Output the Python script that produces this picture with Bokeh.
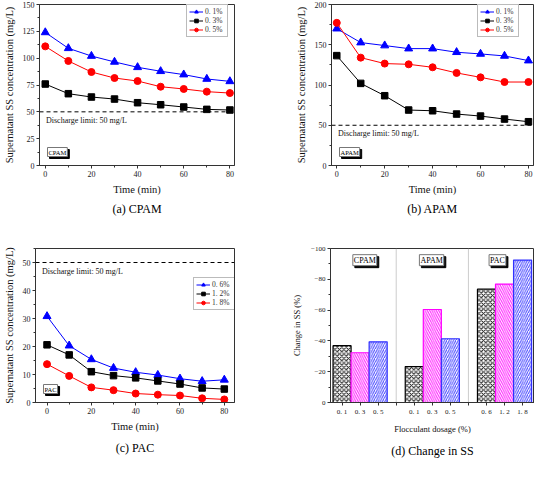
from bokeh.plotting import figure
from bokeh.models import Range1d, Span, Label, FixedTicker, SingleIntervalTicker, ColumnDataSource, Title
from bokeh.layouts import column, row
from bokeh.embed import file_html
from bokeh.resources import INLINE

# ---------------- data ----------------
time_min = [0, 10, 20, 30, 40, 50, 60, 70, 80]

cpam_labels = ["0. 1%", "0. 3%", "0. 5%"]
cpam_01 = [124.0, 109.2, 102.0, 96.5, 91.5, 87.8, 84.7, 80.6, 78.4]
cpam_03 = [75.9, 66.9, 63.8, 61.9, 58.5, 56.6, 54.5, 52.3, 51.7]
cpam_05 = [111.0, 97.4, 87.1, 81.5, 78.7, 73.4, 71.3, 68.8, 67.5]

apam_labels = ["0. 1%", "0. 3%", "0. 5%"]
apam_01 = [170.0, 152.7, 149.0, 145.2, 145.2, 140.7, 138.6, 136.1, 130.3]
apam_03 = [136.5, 102.0, 86.7, 68.9, 68.0, 63.9, 61.4, 57.7, 54.4]
apam_05 = [177.2, 134.0, 126.6, 125.7, 122.0, 115.0, 109.5, 103.7, 103.7]

pac_labels = ["0. 6%", "1. 2%", "1. 8%"]
pac_06 = [30.8, 20.3, 15.4, 12.3, 10.8, 9.8, 8.5, 7.6, 8.1]
pac_12 = [20.6, 17.0, 11.0, 9.6, 8.8, 7.7, 6.6, 5.2, 4.8]
pac_18 = [13.7, 9.5, 5.4, 4.4, 3.2, 2.8, 2.5, 1.5, 1.1]

discharge_limit = 50
limit_text = "Discharge limit: 50 mg/L"

groups = ["CPAM", "APAM", "PAC"]
dosage_labels = [["0. 1", "0. 3", "0. 5"], ["0. 1", "0. 3", "0. 5"], ["0. 6", "1. 2", "1. 8"]]
change_ss = [[-36.9, -32.3, -39.4], [-23.3, -60.4, -41.4], [-73.6, -76.9, -92.5]]

captions = ["(a) CPAM", "(b) APAM", "(c) PAC", "(d) Change in SS"]

# ---------------- style ----------------
SERIF = "Liberation Serif"
SERIES_COLORS = ["#0000FF", "#000000", "#FF0000"]
MARKERS = ["triangle", "square", "circle"]
MSIZES = [8, 6.5, 7]
BAR_COLORS = ["#000000", "#FF00FF", "#3030FF"]
HATCHES = ["diagonal_cross", "left_diagonal_line", "right_diagonal_line"]


def style_axes(p, tick_size, label_size, ylab_standoff=5, xlab_standoff=4):
    p.title.visible = False
    p.xgrid.visible = False
    p.ygrid.visible = False
    p.outline_line_color = "#333333"
    p.outline_line_alpha = 1
    p.outline_line_width = 1
    for ax in (p.xaxis[0], p.yaxis[0]):
        ax.axis_line_color = "#333333"
        ax.major_tick_line_color = "#333333"
        ax.minor_tick_line_color = "#333333"
        ax.major_tick_out = 3
        ax.major_tick_in = 0
        ax.minor_tick_out = 2
        ax.minor_tick_in = 0
        ax.major_label_text_font = SERIF
        ax.major_label_text_font_size = tick_size
        ax.major_label_text_color = "#222222"
        ax.major_label_standoff = 2
        ax.axis_label_text_font = SERIF
        ax.axis_label_text_font_size = label_size
        ax.axis_label_text_font_style = "normal"
        ax.axis_label_text_color = "#111111"
    p.yaxis[0].axis_label_standoff = ylab_standoff
    p.xaxis[0].axis_label_standoff = xlab_standoff


def tag(p, text, x, y, size, x_units="screen", y_units="screen", align="left", baseline="bottom"):
    common = dict(x=x, y=y, x_units=x_units, y_units=y_units, text=text,
                  text_font=SERIF, text_font_size=size, text_align=align,
                  text_baseline=baseline, padding=1)
    p.add_layout(Label(**common, x_offset=2, y_offset=-2, text_color="black",
                       background_fill_color="black", border_line_color="black"))
    p.add_layout(Label(**common, text_color="black", background_fill_color="white",
                       border_line_color="#777777"))


def caption(p, text, standoff):
    p.add_layout(Title(text=text, align="center", text_font=SERIF, text_font_size="12px",
                       text_font_style="normal", text_color="black", standoff=standoff), "below")


def line_panel(w, h, borders, xr, yr, y_int, series, labels, legend_xy, tag_text, cap, cap_so):
    left, right, top, bottom = borders
    p = figure(width=w, height=h, output_backend="svg", toolbar_location=None,
               x_range=Range1d(*xr), y_range=Range1d(*yr),
               min_border_left=left, min_border_right=right,
               min_border_top=top, min_border_bottom=bottom)
    style_axes(p, "8px", "10.5px")
    p.xaxis.ticker = SingleIntervalTicker(interval=20, num_minor_ticks=2)
    p.yaxis.ticker = SingleIntervalTicker(interval=y_int, num_minor_ticks=2)
    p.xaxis.axis_label = "Time (min)"
    p.yaxis.axis_label = "Supernatant SS concentration (mg/L)"

    p.add_layout(Span(location=discharge_limit, dimension="width", line_color="black",
                      line_dash="4 3", line_width=1))
    p.add_layout(Label(x=6.5, y=discharge_limit, x_units="screen", y_units="data", y_offset=-4,
                       text=limit_text, text_font=SERIF, text_font_size="8px",
                       text_baseline="top", text_color="#111111"))

    for ys, lab, col, mk, ms in zip(series, labels, SERIES_COLORS, MARKERS, MSIZES):
        p.line(time_min, ys, line_color=col, line_width=1, legend_label=lab)
        p.scatter(time_min, ys, marker=mk, size=ms, fill_color=col, line_color=col,
                  legend_label=lab)

    lg = p.legend[0]
    lg.location = legend_xy
    lg.label_text_font = SERIF
    lg.label_text_font_size = "7.5px"
    lg.label_text_color = "#333333"
    lg.glyph_width = 14
    lg.glyph_height = 9
    lg.label_height = 9
    lg.label_standoff = 2
    lg.spacing = 0
    lg.padding = 2
    lg.margin = 0
    lg.border_line_color = "#777777"
    lg.border_line_width = 1
    lg.background_fill_alpha = 1

    tag(p, tag_text, 8, 9, "6.5px")
    caption(p, cap, cap_so)
    return p


# columns 267 / 267, rows 232 / 231 (fills the 534 x 463 area inside the page margin)
pa = line_panel(267, 232, (32, 33, 4, 67), (-2.5, 82), (0, 150), 25,
                [cpam_01, cpam_03, cpam_05], cpam_labels, (147, 128), "CPAM", captions[0], 5)
pb = line_panel(267, 232, (64, 1, 4, 67), (-2.2, 82.1), (0, 200), 50,
                [apam_01, apam_03, apam_05], apam_labels, (146, 128), "APAM", captions[1], 5)
pc = line_panel(267, 231, (32, 33, 16, 55), (-5.2, 84.6), (0, 55), 10,
                [pac_06, pac_12, pac_18], pac_labels, (158, 92), "PAC", captions[2], 8)

# ---------------- panel d ----------------
xs, tops, cols, hats, tick_over = [], [], [], [], {}
for g, grp in enumerate(groups):
    for k, lab in enumerate(dosage_labels[g]):
        xpos = 4 * g + k
        xs.append(xpos)
        tops.append(change_ss[g][k])
        cols.append(BAR_COLORS[k])
        hats.append(HATCHES[k])
        tick_over[xpos] = lab
seps = [4 * g - 1 for g in range(1, len(groups))]
for s in seps:
    tick_over[s] = ""

pdd = figure(width=267, height=231, output_backend="svg", toolbar_location=None,
             x_range=Range1d(-0.64, 10.66), y_range=Range1d(0, -100),
             min_border_left=63, min_border_right=0, min_border_top=14, min_border_bottom=53)
style_axes(pdd, "7px", "8.5px", ylab_standoff=6, xlab_standoff=5)
pdd.yaxis.axis_label = "Change in SS (%)"
pdd.xaxis.axis_label = "Flocculant dosage (%)"
pdd.yaxis.ticker = FixedTicker(ticks=[-100, -80, -60, -40, -20, 0],
                               minor_ticks=[-90, -70, -50, -30, -10])
pdd.xaxis.ticker = FixedTicker(ticks=sorted(tick_over.keys()))
pdd.xaxis.major_label_overrides = tick_over

for s in seps:
    pdd.add_layout(Span(location=s, dimension="height", line_color="#999999",
                        line_dash="1 1", line_width=1))

src = ColumnDataSource(dict(x=xs, top=tops, color=cols, hatch=hats))
pdd.vbar(x="x", top="top", bottom=0, width=1, source=src, fill_color="white",
         line_color="color", line_width=1.2, hatch_pattern="hatch", hatch_color="color",
         hatch_scale=4.5, hatch_weight=1, hatch_alpha=0.9)

group_label_x = [1.26, 4.96, 8.61]
for gx, grp in zip(group_label_x, groups):
    tag(pdd, grp, gx, -96, "8px", x_units="data", y_units="data", align="center", baseline="top")

caption(pdd, captions[3], 11)

layout = column(row(pa, pb), row(pc, pdd))
open("out.html", "w").write(file_html(layout, INLINE))
